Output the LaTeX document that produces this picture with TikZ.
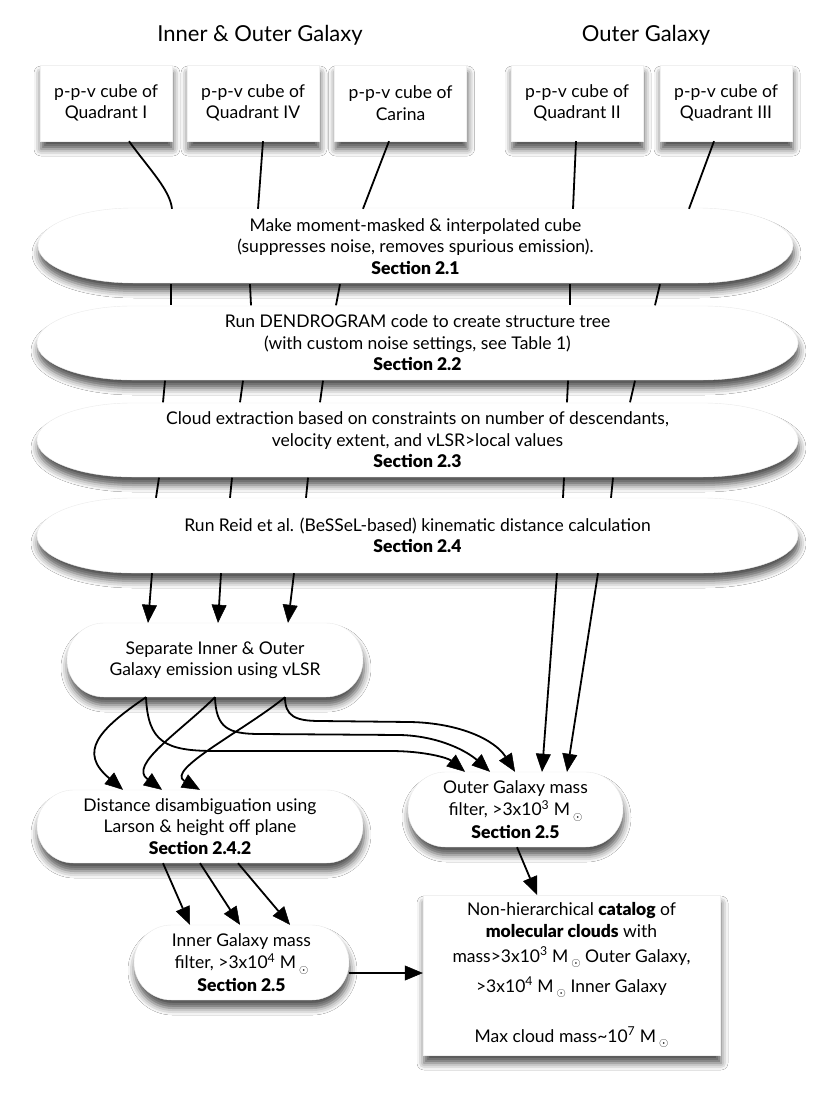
\documentclass[tikz,border=0pt]{standalone}
\usepackage{fontspec}
\setmainfont{Lato}[BoldFont={Lato Black}]
\usetikzlibrary{arrows.meta,shapes.misc,shadows.blur,calc}
\newcommand\msun{\hspace{3pt}\raisebox{-0.55ex}{\fontsize{13}{13}\selectfont$\odot$}}
\newcommand\drawoval[5]{%
  \path[ovalshape] (#1+95,#2) -- (#3-95,#2)
    arc[start angle=90,end angle=-90,x radius=95pt,y radius=#5pt]
    -- (#1+95,#4)
    arc[start angle=270,end angle=90,x radius=95pt,y radius=#5pt] -- cycle;}
\tikzset{
  shad/.style={blur shadow={shadow xshift=1pt,shadow yshift=-8pt,shadow blur radius=7pt,shadow opacity=68}},
  txt/.style={font=\fontsize{17.5}{21.5}\selectfont, align=center, inner sep=0pt},
  cubebox/.style={txt, rectangle, fill=white, draw=black!6, line width=0.4pt, minimum width=132pt, minimum height=76pt, shad},
  ovalshape/.style={fill=white, draw=black!8, line width=0.4pt, shad},
  ovalnode/.style={txt, minimum width=755pt, minimum height=75pt},
  pill/.style={txt, rounded rectangle, fill=white, draw=black!8, line width=0.4pt, minimum height=74pt, shad},
  catbox/.style={rectangle, fill=white, draw=black!6, line width=0.4pt, minimum width=297pt, minimum height=160pt, shad},
  conn/.style={line width=1.8pt, draw=black, opacity=1},
  arr/.style={line width=1.8pt, draw=black, opacity=1, fill opacity=1, draw opacity=1,
    -{Triangle[length=18pt,width=15pt,fill=black,line width=0.5pt]}},
  ttl/.style={font=\fontsize{22}{26}\selectfont, inner sep=0pt},
}
\begin{document}
\begin{tikzpicture}[x=1pt,y=-1pt]
\useasboundingbox (0,0) rectangle (830,1102);
\fill[white] (0,0) rectangle (830,1102);

% titles
\node[ttl] (t1) at (260,35) {Inner \& Outer Galaxy};
\node[ttl] (t2) at (646,35) {Outer Galaxy};

% top boxes
\node[cubebox] (b1) at (106,103) {p-p-v cube of\\Quadrant I};
\node[cubebox] (b2) at (253,103) {p-p-v cube of\\Quadrant IV};
\node[cubebox] (b3) at (400.5,103) {p-p-v cube of\\Carina};
\node[cubebox] (b4) at (577,103) {p-p-v cube of\\Quadrant II};
\node[cubebox] (b5) at (726,103) {p-p-v cube of\\Quadrant III};

% ovals
\drawoval{38}{208}{793}{283}{37.5}
\node[ovalnode] (e1) at (415.5,246.5) {Make moment-masked \& interpolated cube\\(suppresses noise, removes spurious emission).\\\textbf{Section 2.1}};
\drawoval{37}{306}{798}{380}{37}
\node[ovalnode] (e2) at (417.5,343) {Run DENDROGRAM code to create structure tree\\(with custom noise settings, see Table 1)\\\textbf{Section 2.2}};
\drawoval{37}{403}{798}{477}{37}
\node[ovalnode] (e3) at (417.5,440) {Cloud extraction based on constraints on number of descendants,\\velocity extent, and vLSR>local values\\\textbf{Section 2.3}};
\drawoval{37}{498}{798}{573}{37.5}
\node[ovalnode] (e4) at (417.5,535.5) {Run Reid et al. (BeSSeL-based) kinematic distance calculation\\\textbf{Section 2.4}};

% lower nodes
\node[pill, minimum width=296pt] (sep) at (215,660) {Separate Inner \& Outer\\Galaxy emission using vLSR};
\node[pill, minimum width=326pt, minimum height=73pt] (dist) at (200,826.5) {Distance disambiguation using\\Larson \& height off plane\\\textbf{Section 2.4.2}};
\node[pill, minimum width=215pt, minimum height=75pt] (outer) at (515.5,809.5) {Outer Galaxy mass\\[1pt]filter, >3x10\textsuperscript{3} M\msun\\[1pt]\textbf{Section 2.5}};
\node[pill, minimum width=215pt, minimum height=75pt] (inner) at (241.5,962.5) {Inner Galaxy mass\\[1pt]filter, >3x10\textsuperscript{4} M\msun\\[1pt]\textbf{Section 2.5}};
\node[catbox] (cat) at (571.5,975) {};
\node[txt, anchor=north] (cattext) at ($(cat.north)+(0,7)$) {Non-hierarchical \textbf{catalog} of\\[0.5pt]\textbf{molecular clouds} with\\[3.5pt]mass>3x10\textsuperscript{3} M\msun{} Outer Galaxy,\\[8.5pt]>3x10\textsuperscript{4} M\msun{} Inner Galaxy\\[28.5pt]Max cloud mass\textasciitilde 10\textsuperscript{7} M\msun};

% boxes -> oval 1
\draw[conn] ($(b1.south)+(23,0)$) .. controls (150,170) and (170,190) .. ($(e1.north)+(-243.5,0)$);
\draw[conn] ($(b2.south)+(10,0)$) -- ($(e1.north)+(-157.5,0)$);
\draw[conn] ($(b3.south)+(-11.5,0)$) -- ($(e1.north)+(-52.5,0)$);
\draw[conn] ($(b4.south)+(-1,0)$) -- ($(e1.north)+(157.5,0)$);
\draw[conn] ($(b5.south)+(-12,0)$) -- ($(e1.north)+(273.5,0)$);

% oval 1 -> oval 2
\foreach \a/\b in {171/171, 250/251, 340/336, 570/570, 660/655}
  \draw[conn] ($(e1.south)+(\a-415.5,0)$) -- ($(e2.north)+(\b-417.5,0)$);
% oval 2 -> oval 3
\foreach \a/\b in {165/163, 243/240, 323/320, 568/567, 635/630}
  \draw[conn] ($(e2.south)+(\a-417.5,0)$) -- ($(e3.north)+(\b-417.5,0)$);
% oval 3 -> oval 4
\foreach \a/\b in {159/156, 232/230, 308/306, 564/563, 613/611}
  \draw[conn] ($(e3.south)+(\a-417.5,0)$) -- ($(e4.north)+(\b-417.5,0)$);

% oval 4 -> separate
\foreach \a/\b in {152/148, 221/218, 294/288}
  \draw[arr] ($(e4.south)+(\a-417.5,0)$) -- ($(sep.north)+(\b-215,0)$);
% oval 4 -> outer
\foreach \a/\b in {557/542, 598/567}
  \draw[arr] ($(e4.south)+(\a-417.5,0)$) -- ($(outer.north)+(\b-515.5,0)$);

% separate -> distance / outer
\coordinate (s1) at ($(sep.south)+(-69,0)$);
\coordinate (s2) at ($(sep.south)+(0,0)$);
\coordinate (s3) at ($(sep.south)+(70,0)$);
\draw[arr] (s1) .. controls (98,730) and (78,752) .. ($(dist.north)+(-77,0)$);
\draw[arr] (s2) .. controls (180,732) and (128,765) .. ($(dist.north)+(-38,0)$);
\draw[arr] (s3) .. controls (245,730) and (165,770) .. ($(dist.north)+(0,0)$);
\draw[arr] (s1) .. controls (148,742) and (165,751) .. (215,751) -- (390,751) .. controls (425,751) and (448,758) .. ($(outer.north)+(-50.5,0)$);
\draw[arr] (s2) .. controls (216,728) and (228,734) .. (260,734) -- (400,735) .. controls (440,736) and (468,752) .. ($(outer.north)+(-25.5,0)$);
\draw[arr] (s3) .. controls (285,716) and (295,721) .. (320,721) -- (410,722) .. controls (460,723) and (495,740) .. ($(outer.north)+(-0.5,0)$);

% distance -> inner
\foreach \a/\b in {163/190, 200/240, 238/290}
  \draw[arr] ($(dist.south)+(\a-200,0)$) -- ($(inner.north)+(\b-241.5,0)$);
% outer -> catalog, inner -> catalog
\draw[arr] ($(outer.south)+(1.5,0)$) -- ($(cat.north)+(-34.5,0)$);
\draw[arr] ($(inner.east)+(0,10.5)$) -- ($(cat.west)+(0,-2)$);
\end{tikzpicture}
\end{document}
